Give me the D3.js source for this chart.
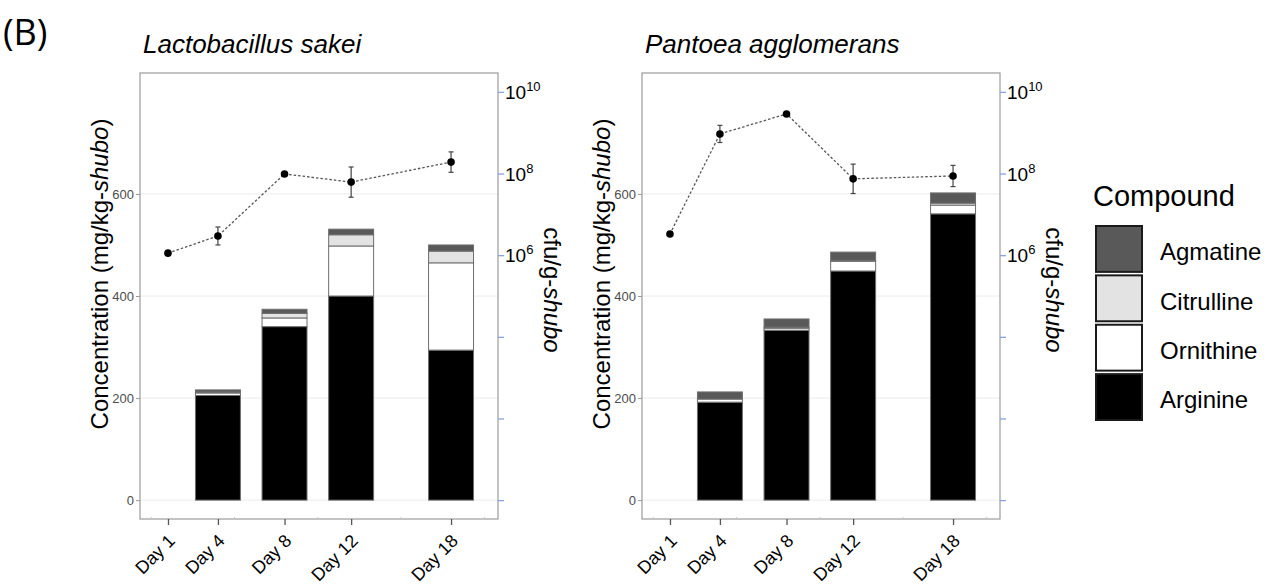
<!DOCTYPE html>
<html>
<head>
<meta charset="utf-8">
<script src="https://cdn.jsdelivr.net/npm/d3@7"></script>
<style>
  body { margin: 0; background: #fff; }
  svg { font-family: "Liberation Sans", Arial, sans-serif; }
</style>
</head>
<body>
<svg id="chart" width="1275" height="586"></svg>
<script>
// compounds, stacked bottom -> top
var compounds = ["Arginine", "Ornithine", "Citrulline", "Agmatine"];
var compoundColours = ["#000000", "#ffffff", "#e3e3e3", "#595959"];

var barDays = [4, 8, 12, 18];
var cfuDays = [1, 4, 8, 12, 18];
var dayTicks = [1, 4, 8, 12, 18];

// Lactobacillus sakei (mg/kg-shubo)
var sakeiArginine   = [205, 340, 400, 294];
var sakeiOrnithine  = [5, 17, 98, 171];
var sakeiCitrulline = [2, 9, 22, 23];
var sakeiAgmatine   = [4, 8, 11, 12];
// log10 cfu/g-shubo and its error
var sakeiLogCfu = [6.05, 6.47, 7.99, 7.79, 8.28];
var sakeiLogErr = [0, 0.22, 0, 0.37, 0.25];

// Pantoea agglomerans
var pantoeaArginine   = [192, 333, 449, 561];
var pantoeaOrnithine  = [6, 4, 19, 17];
var pantoeaCitrulline = [0, 2, 2, 4];
var pantoeaAgmatine   = [14, 16, 16, 20];
var pantoeaLogCfu = [6.52, 8.97, 9.46, 7.87, 7.94];
var pantoeaLogErr = [0, 0.21, 0, 0.36, 0.26];

var concTicks = [0, 200, 400, 600];
var cfuTicks = [1e0, 1e2, 1e4, 1e6, 1e8, 1e10];
var cfuLabelled = [6, 8, 10];

var svg = d3.select("#chart");

var panelTop = 73,
    panelBottom = 519,
    panelWidth = 358,
    barWidthDays = 2.7,
    logFactor = 80; // secondary axis: conc = 80 * log10(cfu)

svg.append("text")
    .attr("x", 3)
    .attr("y", 45)
    .attr("font-family", "'Open Sans', sans-serif")
    .attr("font-size", 36)
    .text("(B)");

function drawPanel(left, title, series, logCfu, logErr) {
    var g = svg.append("g");

    var x = d3.scaleLinear().domain([-0.68, 20.82]).range([left, left + panelWidth]);
    var y = d3.scaleLinear().domain([-37, 837]).range([panelBottom, panelTop]);
    var yCfu = d3.scaleLog()
        .domain([Math.pow(10, -37 / logFactor), Math.pow(10, 837 / logFactor)])
        .range([panelBottom, panelTop]);

    // grid
    g.selectAll(".grid")
        .data(concTicks)
        .enter()
        .append("line")
        .attr("x1", left)
        .attr("x2", left + panelWidth)
        .attr("y1", function(d) { return y(d); })
        .attr("y2", function(d) { return y(d); })
        .attr("stroke", "#ececec")
        .attr("stroke-width", 1);

    // stacked bars
    var rows = barDays.map(function(day, i) {
        var r = { day: day };
        compounds.forEach(function(c, j) { r[c] = series[j][i]; });
        return r;
    });
    var stacked = d3.stack().keys(compounds)(rows);
    var bw = x(barWidthDays) - x(0);

    g.selectAll(".layer")
        .data(stacked)
        .enter()
        .append("g")
        .attr("fill", function(d, i) { return compoundColours[i]; })
        .selectAll("rect")
        .data(function(d) { return d; })
        .enter()
        .append("rect")
        .attr("x", function(d) { return x(d.data.day) - bw / 2; })
        .attr("width", bw)
        .attr("y", function(d) { return y(d[1]); })
        .attr("height", function(d) { return Math.max(0, y(d[0]) - y(d[1])); })
        .attr("stroke", "#6e6e6e")
        .attr("stroke-width", 1);

    // cfu line
    var pts = cfuDays.map(function(day, i) {
        return { day: day, v: Math.pow(10, logCfu[i]), lo: Math.pow(10, logCfu[i] - logErr[i]), hi: Math.pow(10, logCfu[i] + logErr[i]) };
    });

    g.append("path")
        .datum(pts)
        .attr("fill", "none")
        .attr("stroke", "#555")
        .attr("stroke-width", 1.3)
        .attr("stroke-dasharray", "2.5,2")
        .attr("d", d3.line()
            .x(function(d) { return x(d.day); })
            .y(function(d) { return yCfu(d.v); }));

    var err = g.selectAll(".err")
        .data(pts.filter(function(d, i) { return logErr[i] > 0; }))
        .enter()
        .append("g")
        .attr("stroke", "#444")
        .attr("stroke-width", 1.2);
    err.append("line")
        .attr("x1", function(d) { return x(d.day); })
        .attr("x2", function(d) { return x(d.day); })
        .attr("y1", function(d) { return yCfu(d.lo); })
        .attr("y2", function(d) { return yCfu(d.hi); });
    err.append("line")
        .attr("x1", function(d) { return x(d.day) - 2.5; })
        .attr("x2", function(d) { return x(d.day) + 2.5; })
        .attr("y1", function(d) { return yCfu(d.lo); })
        .attr("y2", function(d) { return yCfu(d.lo); });
    err.append("line")
        .attr("x1", function(d) { return x(d.day) - 2.5; })
        .attr("x2", function(d) { return x(d.day) + 2.5; })
        .attr("y1", function(d) { return yCfu(d.hi); })
        .attr("y2", function(d) { return yCfu(d.hi); });

    g.selectAll(".pt")
        .data(pts)
        .enter()
        .append("circle")
        .attr("cx", function(d) { return x(d.day); })
        .attr("cy", function(d) { return yCfu(d.v); })
        .attr("r", 3.8)
        .attr("fill", "#000");

    // panel border
    g.append("rect")
        .attr("x", left)
        .attr("y", panelTop)
        .attr("width", panelWidth)
        .attr("height", panelBottom - panelTop)
        .attr("fill", "none")
        .attr("stroke", "#a3a3a3")
        .attr("stroke-width", 1.3);

    // faint marks on the bottom edge
    g.selectAll(".minor")
        .data([0, 5, 10, 15, 20])
        .enter()
        .append("line")
        .attr("x1", function(d) { return x(d); })
        .attr("x2", function(d) { return x(d); })
        .attr("y1", panelBottom - 2)
        .attr("y2", panelBottom)
        .attr("stroke", "#c8c8c8")
        .attr("stroke-width", 1);

    // left axis
    var yAxis = g.append("g")
        .attr("transform", "translate(" + left + ",0)")
        .call(d3.axisLeft(y).tickValues(concTicks).tickSize(4).tickPadding(2));
    yAxis.select(".domain").remove();
    yAxis.selectAll("line").attr("stroke", "#9a9a9a");
    yAxis.selectAll("text")
        .attr("fill", "#4d4d4d")
        .attr("font-size", 13)
        .attr("font-family", "'Liberation Sans', Arial, sans-serif");

    // right axis
    var rAxis = g.append("g")
        .attr("transform", "translate(" + (left + panelWidth) + ",0)")
        .call(d3.axisRight(yCfu).tickValues(cfuTicks).tickSize(6).tickFormat(""));
    rAxis.select(".domain").remove();
    rAxis.selectAll("line").attr("stroke", "#86a4e6").attr("stroke-width", 1.3);

    var rl = g.selectAll(".rlab")
        .data(cfuLabelled)
        .enter()
        .append("text")
        .attr("x", left + panelWidth + 7)
        .attr("y", function(d) { return yCfu(Math.pow(10, d)) + 7; })
        .attr("font-size", 19)
        .attr("fill", "#000");
    rl.append("tspan").text("10");
    rl.append("tspan")
        .attr("dy", -8)
        .attr("font-size", 13)
        .text(function(d) { return d; });

    // bottom axis
    var xAxis = g.append("g")
        .attr("transform", "translate(0," + panelBottom + ")")
        .call(d3.axisBottom(x).tickValues(dayTicks).tickSize(6).tickFormat(""));
    xAxis.select(".domain").remove();
    xAxis.selectAll("line").attr("stroke", "#555").attr("stroke-width", 1.3);

    g.selectAll(".xlab")
        .data(dayTicks)
        .enter()
        .append("text")
        .attr("transform", function(d) { return "translate(" + (x(d) + 8) + "," + 542 + ") rotate(-45)"; })
        .attr("text-anchor", "end")
        .attr("font-size", 18)
        .text(function(d) { return "Day " + d; });

    // titles
    g.append("text")
        .attr("x", left + 3)
        .attr("y", 53)
        .attr("font-size", 26)
        .attr("font-style", "italic")
        .text(title);

    var yl = g.append("text")
        .attr("transform", "translate(" + (left - 40) + ",274) rotate(-90)")
        .attr("text-anchor", "middle")
        .attr("dy", "0.35em")
        .attr("font-size", 24);
    yl.append("tspan").text("Concentration (mg/kg-");
    yl.append("tspan").attr("font-style", "italic").text("shubo");
    yl.append("tspan").text(")");

    var cl = g.append("text")
        .attr("transform", "translate(" + (left + panelWidth + 54) + ",290) rotate(90)")
        .attr("text-anchor", "middle")
        .attr("dy", "0.35em")
        .attr("font-size", 24);
    cl.append("tspan").text("cfu/g-");
    cl.append("tspan").attr("font-style", "italic").text("shubo");
}

drawPanel(140, "Lactobacillus sakei",
    [sakeiArginine, sakeiOrnithine, sakeiCitrulline, sakeiAgmatine],
    sakeiLogCfu, sakeiLogErr);
drawPanel(642, "Pantoea agglomerans",
    [pantoeaArginine, pantoeaOrnithine, pantoeaCitrulline, pantoeaAgmatine],
    pantoeaLogCfu, pantoeaLogErr);

// legend
var legend = svg.append("g").attr("transform", "translate(1095,0)");
legend.append("text")
    .attr("x", -2)
    .attr("y", 206)
    .attr("font-size", 29)
    .text("Compound");

var legendOrder = compounds.slice().reverse();
var keyY = d3.scaleBand().domain(legendOrder).range([225, 421]).paddingInner(0.03);

var item = legend.selectAll(".key")
    .data(legendOrder)
    .enter()
    .append("g");
item.append("rect")
    .attr("x", 1)
    .attr("y", function(d) { return keyY(d) + 1; })
    .attr("width", 46)
    .attr("height", keyY.bandwidth() - 2)
    .attr("fill", function(d) { return compoundColours[compounds.indexOf(d)]; })
    .attr("stroke", "#1a1a1a")
    .attr("stroke-width", 2);
item.append("text")
    .attr("x", 65)
    .attr("y", function(d) { return keyY(d) + keyY.bandwidth() / 2 + 3; })
    .attr("dy", "0.35em")
    .attr("font-size", 24)
    .text(function(d) { return d; });
</script>
</body>
</html>
